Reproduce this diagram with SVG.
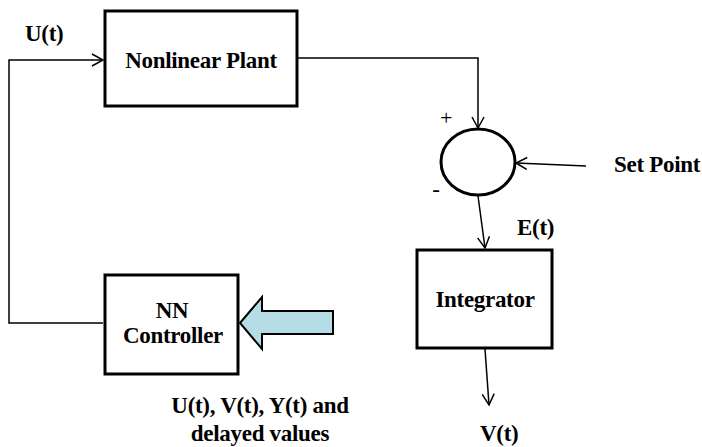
<svg xmlns="http://www.w3.org/2000/svg" width="702" height="447" viewBox="0 0 702 447">
<defs>
<marker id="oa" markerWidth="14" markerHeight="14" refX="12" refY="7" orient="auto" markerUnits="userSpaceOnUse">
<path d="M1,1 L12,7 L1,13" fill="none" stroke="#000" stroke-width="1.5"/>
</marker>
</defs>
<rect width="702" height="447" fill="#fff"/>
<g id="connectors" fill="none" stroke="#000" stroke-width="1.5">
<path d="M103,323 H9 V60 H103" marker-end="url(#oa)"/>
<path d="M298,58 H478 V128" marker-end="url(#oa)"/>
<path d="M586,166 L516,163" marker-end="url(#oa)"/>
<path d="M478,196 L485,248" marker-end="url(#oa)"/>
<path d="M485,349 L489,405" marker-end="url(#oa)"/>
<path d="M240,323 L262,297 L262,311 L333,311 L333,334 L262,334 L262,349 Z" fill="#b6dde5" stroke-width="2"/>
</g>
<g font-family="Liberation Serif, serif" font-weight="bold" font-size="23" letter-spacing="-0.3" fill="#000">
<g id="plant">
<rect x="105" y="11" width="192" height="95" fill="#fff" stroke="#000" stroke-width="3"/>
<text x="201" y="68" text-anchor="middle">Nonlinear Plant</text>
</g>
<g id="sum">
<ellipse cx="478" cy="162" rx="37" ry="33" fill="#fff" stroke="#000" stroke-width="3"/>
<text x="446" y="125" text-anchor="middle" font-weight="normal" font-size="22">+</text>
<text x="436" y="197" text-anchor="middle" font-weight="normal">-</text>
</g>
<g id="integrator">
<rect x="417" y="250" width="135" height="98" fill="#fff" stroke="#000" stroke-width="3"/>
<text x="485" y="307" text-anchor="middle">Integrator</text>
</g>
<g id="controller">
<rect x="105" y="275" width="133" height="99" fill="#fff" stroke="#000" stroke-width="3"/>
<text x="172" y="318" text-anchor="middle">NN</text>
<text x="173" y="343" text-anchor="middle">Controller</text>
</g>
<g id="labels">
<text x="25" y="41">U(t)</text>
<text x="614" y="172">Set Point</text>
<text x="517" y="235">E(t)</text>
<text x="480" y="441">V(t)</text>
<text x="260" y="413" text-anchor="middle">U(t), V(t), Y(t) and</text>
<text x="260" y="441" text-anchor="middle">delayed values</text>
</g>
</g>
</svg>
